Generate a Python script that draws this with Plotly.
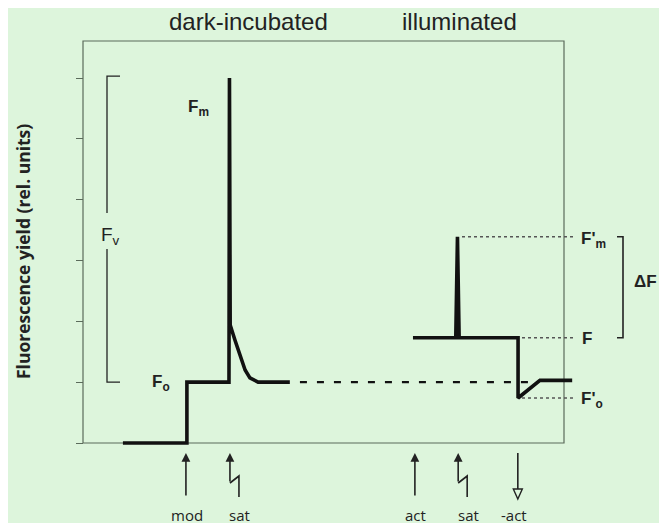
import plotly.graph_objects as go

W, H = 667, 523

# ---------------- data (time: arbitrary units, frame spans 0-100; yield: rel. units) ----
dark_t = [8.3, 21.6, 21.6, 30.35, 30.45, 30.6, 31.6, 33.7, 34.7, 35.8, 36.4, 43.0]
dark_y = [0.0, 0.0, 1.0, 1.0, 6.0, 1.94, 1.69, 1.20, 1.07, 1.02, 1.0, 1.0]
light_t = [68.6, 77.5, 77.85, 78.2, 90.45, 90.45, 95.0, 101.7]
light_y = [1.73, 1.73, 3.39, 1.73, 1.73, 0.74, 1.03, 1.03]
ref_t = [45.1, 93.0]
ref_y = [1.0, 1.0]
y_ticks = [0, 1, 2, 3, 4, 5, 6]
event_labels = ["mod", "sat", "act", "sat", "-act"]
event_t = [21.4, 30.55, 69.0, 78.0, 90.4]
event_kind = ["up", "flash", "up", "flash", "down"]

# ---------------- scale helpers (layout only) ----------------
OFF = 8.0                   # page body margin offset
X0PX, XSC = 83.0, 4.81      # px of t=0 (page coords), px per t unit
Y0PX, YSC = 443.0, 60.83    # px of y=0 (page coords), px per y unit
def tx(px):  # page pixel x -> data x
    return (px - X0PX) / XSC
def ty(py):  # page pixel y -> data y
    return (Y0PX - py) / YSC
def pxp(px):
    return (px - OFF) / W
def pyp(py):
    return 1 - (py - OFF) / H

BG = "#ddf5dc"
FRAME = "#5b6b5b"
INK = "#111111"
TXT = "#222222"

Fo = dark_y[2]
Fm = max(dark_y)
Fs = light_y[0]
Fm_p = max(light_y)
Fo_p = min(light_y)

fig = go.Figure()
fig.add_trace(go.Scatter(x=dark_t, y=dark_y, mode="lines",
                         line=dict(color=INK, width=3.6), hoverinfo="skip"))
fig.add_trace(go.Scatter(x=ref_t, y=ref_y, mode="lines",
                         line=dict(color=INK, width=2.4, dash="7px,10px"), hoverinfo="skip"))
fig.add_trace(go.Scatter(x=light_t, y=light_y, mode="lines",
                         line=dict(color=INK, width=3.6), hoverinfo="skip"))

shapes = []
# frame
shapes.append(dict(type="rect", xref="x", yref="y", x0=0, x1=100, y0=0, y1=ty(41),
                   line=dict(color=FRAME, width=1.2), fillcolor="rgba(0,0,0,0)", layer="below"))
# dotted reference lines on the right
for lvl, xs in [(Fm_p, 462), (Fs, 522), (Fo_p, 522)]:
    shapes.append(dict(type="line", xref="x", yref="y", x0=tx(xs), x1=tx(576), y0=lvl, y1=lvl,
                       line=dict(color="#555", width=1.5, dash="dot")))
# Fv bracket
bx = tx(107); bxe = tx(120)
shapes.append(dict(type="path", xref="x", yref="y",
                   path=f"M {bxe},{Fm+0.03} L {bx},{Fm+0.03} L {bx},{ty(213)}",
                   line=dict(color=TXT, width=1.3)))
shapes.append(dict(type="path", xref="x", yref="y",
                   path=f"M {bx},{ty(249)} L {bx},{Fo} L {bxe},{Fo}",
                   line=dict(color=TXT, width=1.3)))
# delta F bracket
dx = tx(623); dxe = tx(617)
shapes.append(dict(type="path", xref="x", yref="y",
                   path=f"M {dxe},{Fm_p} L {dx},{Fm_p} L {dx},{Fs} L {dxe},{Fs}",
                   line=dict(color=TXT, width=1.6)))

annotations = []
tip_y, tail_y = ty(453), ty(497)
for lab, t, kind in zip(event_labels, event_t, event_kind):
    xp = X0PX + t * XSC
    if kind == "up":
        annotations.append(dict(x=t, y=tip_y, ax=t, ay=tail_y, xref="x", yref="y",
                                axref="x", ayref="y", text="", showarrow=True,
                                arrowhead=2, arrowsize=1.1, arrowwidth=1.6, arrowcolor=TXT))
        lx = xp + 1
    elif kind == "flash":
        off = tx(xp + 9) - t
        annotations.append(dict(x=t, y=tip_y, ax=t, ay=ty(483), xref="x", yref="y",
                                axref="x", ayref="y", text="", showarrow=True,
                                arrowhead=2, arrowsize=1.1, arrowwidth=1.6, arrowcolor=TXT))
        shapes.append(dict(type="path", xref="x", yref="y",
                           path=f"M {t},{ty(483)} L {t+off},{ty(476)} L {t+off},{tail_y}",
                           line=dict(color=TXT, width=1.6)))
        lx = xp + 10
    else:
        shapes.append(dict(type="line", xref="x", yref="y", x0=t, x1=t, y0=tip_y, y1=ty(489),
                           line=dict(color=TXT, width=1.6)))
        shapes.append(dict(type="path", xref="x", yref="y",
                           path=f"M {tx(xp-4.5)},{ty(489)} L {tx(xp+4.5)},{ty(489)} L {t},{ty(499)} Z",
                           line=dict(color=TXT, width=1.4), fillcolor=BG))
        lx = xp - 4
    annotations.append(dict(x=pxp(lx), y=pyp(515), xref="paper", yref="paper", text=lab,
                            showarrow=False, xanchor="center", yanchor="middle",
                            font=dict(family="Open Sans", size=15, color=TXT)))

def label(text, x, y, size=17, bold=True, anchor="left", family="Liberation Sans", angle=0):
    annotations.append(dict(x=pxp(x), y=pyp(y), xref="paper", yref="paper",
                            text=f"<b>{text}</b>" if bold else text, showarrow=False,
                            xanchor=anchor, yanchor="middle", textangle=angle,
                            font=dict(family=family, size=size, color=TXT)))

label("dark-incubated", 248, 22, size=24, bold=False, anchor="center")
label("illuminated", 459, 22, size=24, bold=False, anchor="center")
label("F<sub>m</sub>", 186, 108)
label("F<sub>v</sub>", 99, 236, size=19, bold=False)
label("F<sub>o</sub>", 150, 383)
label("F'<sub>m</sub>", 579, 240)
label("F", 580, 338)
label("F'<sub>o</sub>", 579, 400)
label("ΔF", 632, 281)
label("Fluorescence yield (rel. units)", 23, 252, size=17.5, anchor="center",
      family="Open Sans", angle=-90)

x_lo, x_hi = tx(OFF), tx(OFF + W)
y_lo, y_hi = ty(OFF + H), ty(OFF)

fig.update_layout(
    width=W, height=H, autosize=False,
    margin=dict(l=0, r=0, t=0, b=0, pad=0),
    paper_bgcolor=BG, plot_bgcolor=BG,
    showlegend=False,
    shapes=shapes, annotations=annotations,
    xaxis=dict(range=[x_lo, x_hi], visible=False, fixedrange=True),
    yaxis=dict(range=[y_lo, y_hi], anchor="free", position=pxp(X0PX),
               tickvals=y_ticks, ticks="outside", ticklen=7, tickwidth=1.2,
               tickcolor=FRAME, showticklabels=False, showgrid=False,
               zeroline=False, showline=False, fixedrange=True),
)

fig.write_html("out.html")
